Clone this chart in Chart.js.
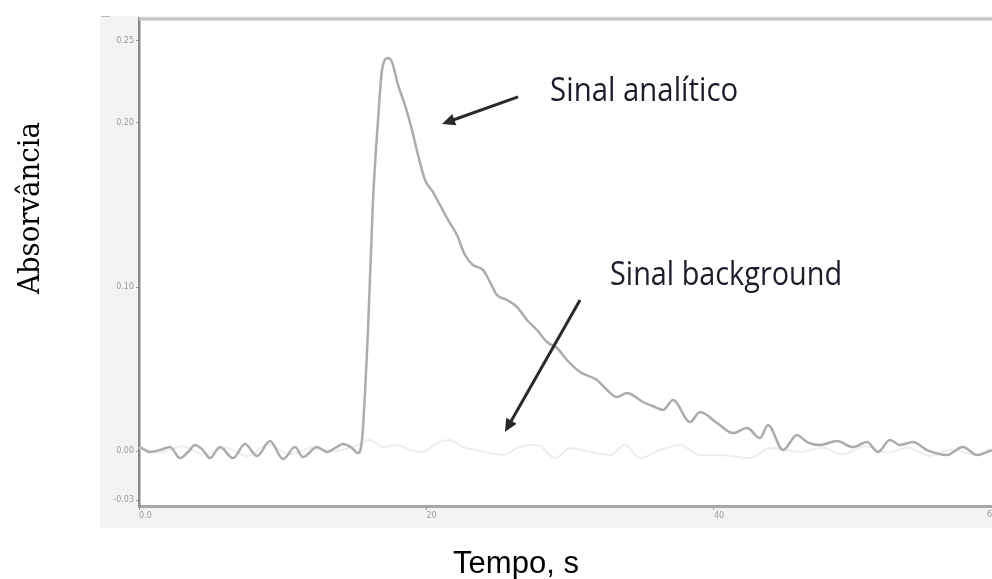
<!DOCTYPE html>
<html>
<head>
<meta charset="utf-8">
<script src="https://cdn.jsdelivr.net/npm/chart.js@4"></script>
<style>
  html, body { margin: 0; padding: 0; background: #fff; overflow: hidden; }
  #wrap { width: 992px; height: 579px; position: relative; }
</style>
</head>
<body>
<div id="wrap"><canvas id="chart_absorbance"></canvas></div>
<script>
// analytical signal (time in s, absorbance)
const anTime = [0.07, 0.77, 1.46, 2.16, 2.85, 3.41, 3.90, 4.45, 4.94, 5.63, 6.54, 7.37, 8.21, 9.11, 10.02, 10.85, 11.41, 12.38, 13.08, 13.63,
  14.19, 14.82, 15.23, 15.51, 15.93, 16.28, 16.63, 16.90, 17.32, 17.60, 18.02, 18.50, 18.99, 19.41, 19.90, 20.45, 20.94, 21.50, 22.12, 22.68,
  23.23, 23.93, 24.42, 24.90, 25.60, 26.30, 26.99, 27.69, 28.38, 29.08, 29.77, 30.68, 31.86, 32.56, 33.25, 33.95, 35.06, 35.90, 36.45, 37.15,
  38.33, 39.03, 40.21, 41.32, 42.30, 43.20, 43.76, 44.80, 45.77, 46.47, 47.37, 48.56, 49.67, 50.64, 51.41, 52.24, 52.94, 53.84, 54.82, 56.21,
  57.32, 58.30, 59.34];
const anAbs = [0.0024, -0.0006, 0.0006, 0.0024, -0.0043, -0.0006, 0.0037, 0.0006, -0.0043, 0.0024, -0.0043, 0.0043, -0.0030, 0.0061, -0.0049, 0.0024, -0.0037, 0.0024, -0.0006, 0.0018,
  0.0043, 0.0018, -0.0012, 0.0067, 0.0738, 0.1530, 0.2018, 0.2320, 0.2396, 0.2372, 0.2232, 0.2110, 0.1957, 0.1805, 0.1652, 0.1579, 0.1500, 0.1409, 0.1317, 0.1195,
  0.1134, 0.1104, 0.1030, 0.0951, 0.0921, 0.0878, 0.0799, 0.0738, 0.0665, 0.0628, 0.0555, 0.0482, 0.0433, 0.0372, 0.0329, 0.0354, 0.0299, 0.0268, 0.0250, 0.0311,
  0.0177, 0.0238, 0.0171, 0.0110, 0.0140, 0.0079, 0.0159, 0.0006, 0.0098, 0.0055, 0.0037, 0.0061, 0.0024, 0.0055, -0.0006, 0.0067, 0.0037, 0.0055, 0.0006, -0.0024,
  0.0024, -0.0024, 0.0006];

// background signal
const bgTime = [0, 1.5, 3, 4.5, 6, 7.5, 9, 10.5, 12, 13.5, 15, 16.07, 16.97, 17.95, 18.84, 19.76, 20.73, 21.64, 22.54, 23.51,
  24.42, 25.32, 26.30, 27.20, 27.90, 28.94, 29.98, 31.37, 32.77, 33.81, 34.85, 36.24, 37.63, 39.03, 40.42, 42.50, 43.90, 46.00, 47.50, 49.00,
  50.50, 52.00, 53.50, 55.00, 56.50, 58.00, 59.30];
const bgAbs = [0.002, -0.001, 0.003, -0.002, 0.002, -0.003, 0.004, -0.002, 0.002, 0.000, 0.003, 0.0067, 0.0024, 0.0037, 0.0006, -0.0006, 0.0049, 0.0067, 0.0024, 0.0006,
  -0.0012, -0.0024, 0.0018, 0.0037, 0.0030, -0.0043, 0.0018, -0.0006, -0.0024, 0.0037, -0.0043, 0.0006, 0.0037, -0.0024, -0.0024, -0.0043, 0.0018, -0.0006, 0.002, -0.002,
  0.003, -0.001, 0.002, -0.003, 0.001, -0.002, 0.001];

const xTicks = [0, 20, 40];
const xTickLabels = ['0.0', '20', '40'];
const yTicks = [-0.03, 0, 0.1, 0.2, 0.25];
const yTickLabels = ['-0.03', '0.00', '0.10', '0.20', '0.25'];

const toPoints = (xs, ys) => xs.map((x, i) => ({ x: x, y: ys[i] }));

// frame, titles and the two arrow notes
const decorations = {
  id: 'decorations',
  beforeDraw(chart) {
    let { ctx, chartArea: a } = chart;
    ctx.save();
    ctx.fillStyle = '#f3f3f3';
    ctx.fillRect(100, 16, 892, 512);
    ctx.fillStyle = '#ffffff';
    ctx.fillRect(a.left, a.top, a.right - a.left, a.bottom - a.top);
    ctx.restore();
  },
  afterDraw(chart) {
    let { ctx, chartArea: a, scales: { x, y } } = chart;
    ctx.save();
    // top frame line
    ctx.strokeStyle = '#c4c4c4';
    ctx.lineWidth = 3;
    ctx.beginPath();
    ctx.moveTo(a.left, a.top + 1);
    ctx.lineTo(a.right, a.top + 1);
    ctx.stroke();
    ctx.lineWidth = 1;
    ctx.strokeStyle = '#bbbbbb';
    ctx.beginPath();
    ctx.moveTo(101, 16.5);
    ctx.lineTo(110, 16.5);
    ctx.stroke();

    // clipped "60" label at the right edge
    ctx.fillStyle = '#9a9a9a';
    ctx.font = '8px "DejaVu Sans"';
    ctx.textAlign = 'left';
    ctx.textBaseline = 'top';
    ctx.fillText('60', 987, 511);

    let fitText = (text, px, py, width, font, color) => {
      ctx.font = font;
      ctx.fillStyle = color;
      ctx.textAlign = 'left';
      ctx.textBaseline = 'alphabetic';
      let w = ctx.measureText(text).width;
      ctx.save();
      ctx.translate(px, py);
      ctx.scale(width / w, 1);
      ctx.fillText(text, 0, 0);
      ctx.restore();
    };

    let arrow = (t0, v0, t1, v1) => {
      let x0 = x.getPixelForValue(t0), y0 = y.getPixelForValue(v0);
      let x1 = x.getPixelForValue(t1), y1 = y.getPixelForValue(v1);
      let ang = Math.atan2(y1 - y0, x1 - x0);
      ctx.strokeStyle = '#2a2a2a';
      ctx.fillStyle = '#2a2a2a';
      ctx.lineWidth = 3;
      ctx.beginPath();
      ctx.moveTo(x0, y0);
      ctx.lineTo(x1 - 8 * Math.cos(ang), y1 - 8 * Math.sin(ang));
      ctx.stroke();
      ctx.beginPath();
      ctx.moveTo(x1, y1);
      ctx.lineTo(x1 - 13 * Math.cos(ang) + 6 * Math.sin(ang), y1 - 13 * Math.sin(ang) - 6 * Math.cos(ang));
      ctx.lineTo(x1 - 13 * Math.cos(ang) - 6 * Math.sin(ang), y1 - 13 * Math.sin(ang) + 6 * Math.cos(ang));
      ctx.closePath();
      ctx.fill();
    };

    fitText('Sinal analítico', x.getPixelForValue(28.6), y.getPixelForValue(0.2134), 188, '33px "Open Sans"', '#1c1c2a');
    arrow(26.37, 0.2159, 21.08, 0.1994);
    fitText('Sinal background', x.getPixelForValue(32.77), y.getPixelForValue(0.1012), 232, '33px "Open Sans"', '#1c1c2a');
    arrow(30.68, 0.0921, 25.46, 0.0116);

    // axis titles
    ctx.fillStyle = '#000';
    ctx.font = '31px "Liberation Sans", Arial, sans-serif';
    ctx.textAlign = 'center';
    ctx.textBaseline = 'alphabetic';
    ctx.fillText('Tempo, s', 516, 573);

    ctx.save();
    ctx.translate(31, 208);
    ctx.rotate(-Math.PI / 2);
    ctx.font = '30px "DejaVu Serif", serif';
    let w = ctx.measureText('Absorvância').width;
    ctx.scale(172 / w, 1);
    ctx.textAlign = 'center';
    ctx.textBaseline = 'middle';
    ctx.fillText('Absorvância', 0, 0);
    ctx.restore();
    ctx.restore();
  }
};

let type = 'scatter',
    plugins = [decorations];

let data = {
  datasets: [
    {
      label: 'Sinal analítico',
      data: toPoints(anTime, anAbs),
      showLine: true,
      borderColor: '#acacac',
      borderWidth: 2.5,
      pointRadius: 0,
      cubicInterpolationMode: 'monotone'
    },
    {
      label: 'Sinal background',
      data: toPoints(bgTime, bgAbs),
      showLine: true,
      borderColor: '#ededed',
      borderWidth: 2,
      pointRadius: 0,
      cubicInterpolationMode: 'monotone'
    }
  ]
};

let options = {
  responsive: true,
  maintainAspectRatio: false,
  animation: false,
  layout: { padding: { left: 0, top: 18, right: 0, bottom: 0 } },
  plugins: {
    legend: { display: false },
    tooltip: { enabled: false }
  },
  scales: {
    x: {
      type: 'linear',
      min: 0,
      max: 59.34,
      afterFit: (s) => { s.height = 73; s.paddingLeft = 0; s.paddingRight = 0; },
      afterBuildTicks: (s) => { s.ticks = xTicks.map(v => ({ value: v })); },
      grid: { drawOnChartArea: false, tickLength: 4, color: '#999' },
      border: { color: '#a6a6a6', width: 3 },
      ticks: {
        align: 'start',
        padding: 1,
        color: '#9a9a9a',
        font: { size: 8, family: 'DejaVu Sans' },
        callback: (v) => xTickLabels[xTicks.indexOf(v)]
      }
    },
    y: {
      type: 'linear',
      min: -0.0335,
      max: 0.264,
      afterFit: (s) => { s.width = 139; s.paddingTop = 0; s.paddingBottom = 0; },
      afterBuildTicks: (s) => { s.ticks = yTicks.map(v => ({ value: v })); },
      grid: { drawOnChartArea: false, tickLength: 3, color: '#999' },
      border: { color: '#8a8a8a', width: 2.5 },
      ticks: {
        padding: 2,
        color: '#9a9a9a',
        font: { size: 8, family: 'DejaVu Sans' },
        callback: (v) => yTickLabels[yTicks.indexOf(v)]
      }
    }
  }
};

new Chart('chart_absorbance', { type, plugins, data, options });
</script>
</body>
</html>
